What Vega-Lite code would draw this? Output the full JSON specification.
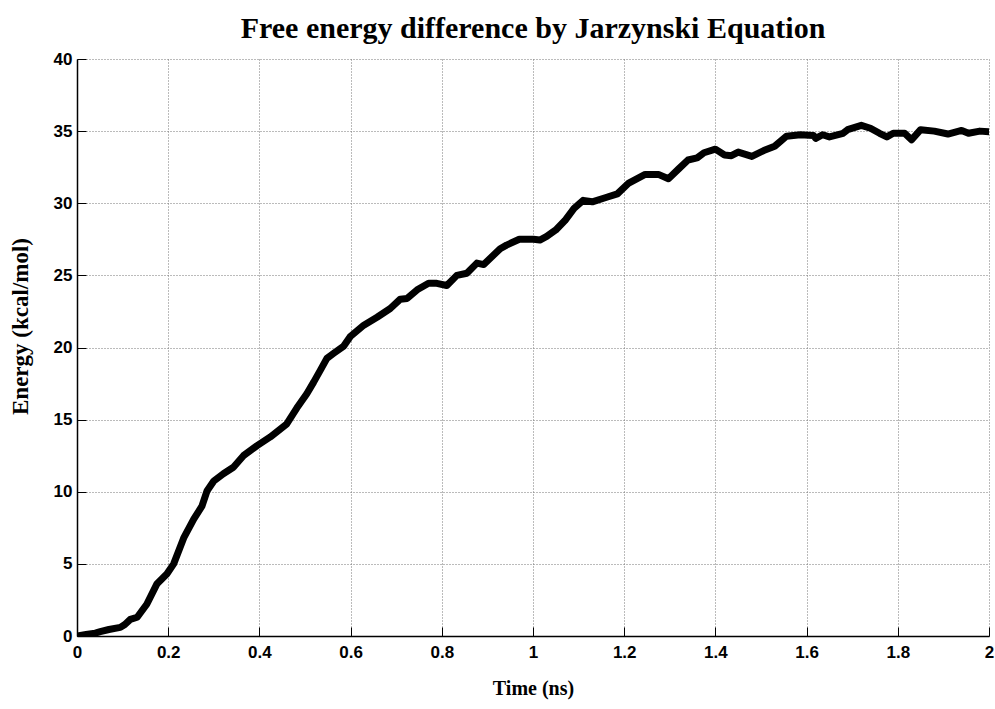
{
  "$schema": "https://vega.github.io/schema/vega-lite/v6.json",
  "autosize": {"type": "none"},
  "padding": {"left": 77, "top": 59, "right": 6, "bottom": 73},
  "width": 912,
  "height": 577,
  "background": "white",
  "title": {
    "text": "Free energy difference by Jarzynski Equation",
    "font": "Liberation Serif",
    "fontWeight": "bold",
    "fontSize": 30,
    "color": "black",
    "anchor": "middle",
    "baseline": "alphabetic",
    "offset": 23,
    "dy": 41
  },
  "config": {
    "view": {"stroke": null},
    "axis": {
      "grid": true,
      "gridColor": "#777777",
      "gridDash": [1, 2],
      "gridWidth": 1,
      "gridOpacity": 1,
      "domainColor": "black",
      "domainWidth": 1.5,
      "tickColor": "black",
      "tickSize": -9,
      "tickWidth": 1,
      "labelFont": "Liberation Sans",
      "labelFontWeight": "bold",
      "labelFontSize": 17,
      "labelColor": "black",
      "titleFont": "Liberation Serif",
      "titleFontWeight": "bold",
      "titleColor": "black"
    }
  },
  "data": {
    "values": [
      {"t": 0.000, "E": 0.0},
      {"t": 0.020, "E": 0.1},
      {"t": 0.040, "E": 0.2},
      {"t": 0.051, "E": 0.3},
      {"t": 0.070, "E": 0.45},
      {"t": 0.095, "E": 0.6},
      {"t": 0.105, "E": 0.8},
      {"t": 0.117, "E": 1.15},
      {"t": 0.132, "E": 1.3},
      {"t": 0.153, "E": 2.2},
      {"t": 0.175, "E": 3.6},
      {"t": 0.197, "E": 4.3},
      {"t": 0.212, "E": 5.0},
      {"t": 0.234, "E": 6.8},
      {"t": 0.256, "E": 8.1},
      {"t": 0.274, "E": 9.0},
      {"t": 0.285, "E": 10.05},
      {"t": 0.300, "E": 10.75},
      {"t": 0.321, "E": 11.25},
      {"t": 0.343, "E": 11.7},
      {"t": 0.365, "E": 12.5},
      {"t": 0.395, "E": 13.2},
      {"t": 0.424, "E": 13.8},
      {"t": 0.460, "E": 14.7},
      {"t": 0.482, "E": 15.8},
      {"t": 0.504, "E": 16.8},
      {"t": 0.519, "E": 17.6},
      {"t": 0.535, "E": 18.5},
      {"t": 0.548, "E": 19.25},
      {"t": 0.563, "E": 19.6},
      {"t": 0.585, "E": 20.1},
      {"t": 0.599, "E": 20.75},
      {"t": 0.629, "E": 21.55},
      {"t": 0.658, "E": 22.1},
      {"t": 0.687, "E": 22.7},
      {"t": 0.709, "E": 23.35},
      {"t": 0.724, "E": 23.4},
      {"t": 0.746, "E": 24.0},
      {"t": 0.771, "E": 24.45},
      {"t": 0.789, "E": 24.45},
      {"t": 0.811, "E": 24.3},
      {"t": 0.833, "E": 25.0},
      {"t": 0.855, "E": 25.15},
      {"t": 0.877, "E": 25.85},
      {"t": 0.892, "E": 25.75},
      {"t": 0.928, "E": 26.85},
      {"t": 0.942, "E": 27.1},
      {"t": 0.970, "E": 27.5},
      {"t": 1.001, "E": 27.5},
      {"t": 1.015, "E": 27.45},
      {"t": 1.030, "E": 27.7},
      {"t": 1.050, "E": 28.15},
      {"t": 1.070, "E": 28.8},
      {"t": 1.090, "E": 29.65},
      {"t": 1.110, "E": 30.2},
      {"t": 1.130, "E": 30.1},
      {"t": 1.160, "E": 30.4},
      {"t": 1.185, "E": 30.65},
      {"t": 1.210, "E": 31.4},
      {"t": 1.246, "E": 32.0},
      {"t": 1.275, "E": 32.0},
      {"t": 1.297, "E": 31.7},
      {"t": 1.320, "E": 32.4},
      {"t": 1.340, "E": 33.0},
      {"t": 1.360, "E": 33.15},
      {"t": 1.375, "E": 33.5},
      {"t": 1.400, "E": 33.75},
      {"t": 1.420, "E": 33.35},
      {"t": 1.435, "E": 33.3},
      {"t": 1.450, "E": 33.55},
      {"t": 1.480, "E": 33.25},
      {"t": 1.506, "E": 33.65},
      {"t": 1.530, "E": 33.95},
      {"t": 1.556, "E": 34.65},
      {"t": 1.586, "E": 34.75},
      {"t": 1.615, "E": 34.7},
      {"t": 1.620, "E": 34.5},
      {"t": 1.635, "E": 34.75},
      {"t": 1.650, "E": 34.6},
      {"t": 1.680, "E": 34.85},
      {"t": 1.690, "E": 35.1},
      {"t": 1.720, "E": 35.4},
      {"t": 1.740, "E": 35.2},
      {"t": 1.760, "E": 34.85},
      {"t": 1.776, "E": 34.6},
      {"t": 1.790, "E": 34.85},
      {"t": 1.815, "E": 34.85},
      {"t": 1.830, "E": 34.4},
      {"t": 1.850, "E": 35.1},
      {"t": 1.880, "E": 35.0},
      {"t": 1.910, "E": 34.8},
      {"t": 1.940, "E": 35.05},
      {"t": 1.955, "E": 34.85},
      {"t": 1.980, "E": 35.0},
      {"t": 2.000, "E": 34.95}
    ]
  },
  "mark": {"type": "line", "color": "black", "strokeWidth": 7, "strokeCap": "round", "strokeJoin": "round", "clip": true},
  "encoding": {
    "x": {
      "field": "t",
      "type": "quantitative",
      "scale": {"domain": [0, 2], "nice": false, "zero": false},
      "axis": {
        "values": [0, 0.2, 0.4, 0.6, 0.8, 1, 1.2, 1.4, 1.6, 1.8, 2],
        "labelExpr": "format(datum.value, '~g')",
        "labelPadding": 17,
        "labelBaseline": "top",
        "labelFlush": false,
        "title": "Time (ns)",
        "titleFontSize": 20,
        "titleBaseline": "alphabetic",
        "titleY": 58
      }
    },
    "y": {
      "field": "E",
      "type": "quantitative",
      "scale": {"domain": [0, 40], "nice": false},
      "axis": {
        "values": [0, 5, 10, 15, 20, 25, 30, 35, 40],
        "labelPadding": 14,
        "labelFlush": false,
        "title": "Energy (kcal/mol)",
        "titleFontSize": 23,
        "titleAngle": -90,
        "titleBaseline": "middle",
        "titleX": -57,
        "titleY": 267
      }
    }
  }
}
